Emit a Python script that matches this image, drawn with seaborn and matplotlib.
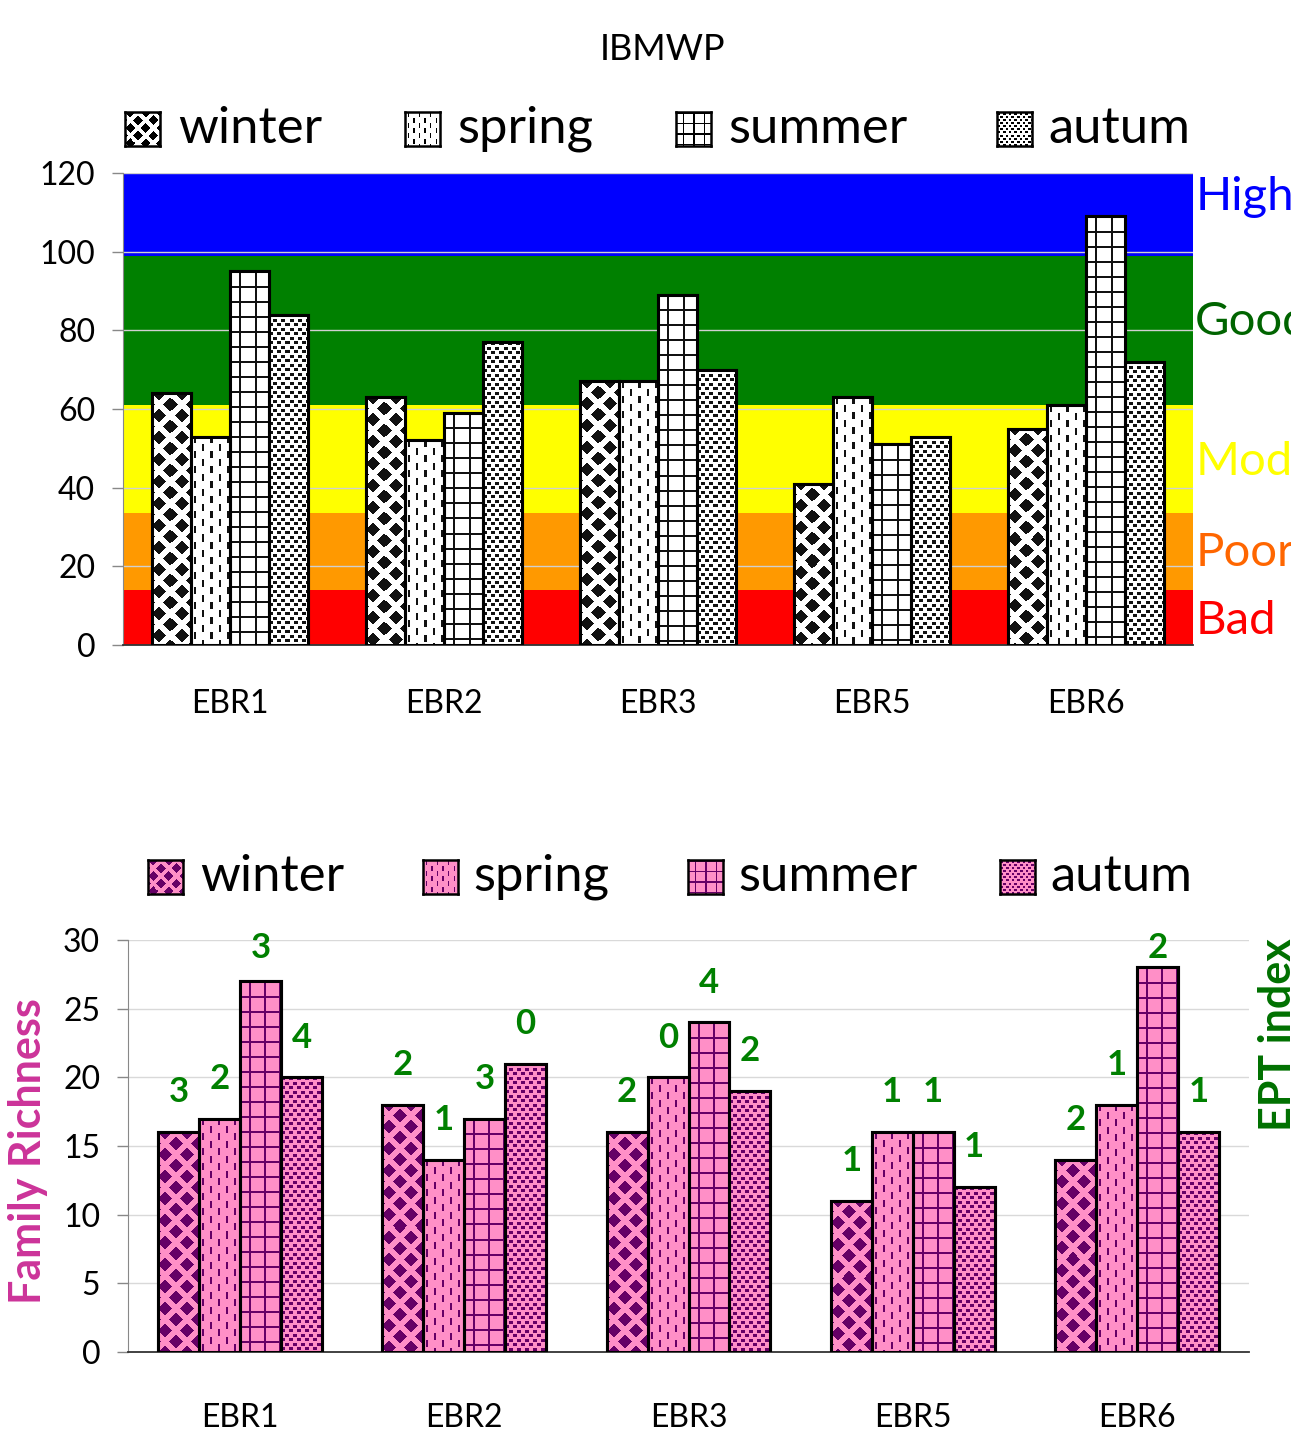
import numpy as np
import pandas as pd
import matplotlib
matplotlib.use("Agg")
import matplotlib.pyplot as plt
import matplotlib.colors as mcolors
import seaborn as sns

# --- data ---
sites = ["EBR1", "EBR2", "EBR3", "EBR5", "EBR6"]
seasons = ["winter", "spring", "summer", "autum"]

ibmwp_winter = [64, 63, 67, 41, 55]
ibmwp_spring = [53, 52, 67, 63, 61]
ibmwp_summer = [95, 59, 89, 51, 109]
ibmwp_autum = [84, 77, 70, 53, 72]

rich_winter = [16, 18, 16, 11, 14]
rich_spring = [17, 14, 20, 16, 18]
rich_summer = [27, 17, 24, 16, 28]
rich_autum = [20, 21, 19, 12, 16]

ept_winter = [3, 2, 2, 1, 2]
ept_spring = [2, 1, 0, 1, 1]
ept_summer = [3, 3, 4, 1, 2]
ept_autum = [4, 0, 2, 1, 1]

# IBMWP quality classes
class_edges = [0, 14, 33.5, 61, 99, 120]
class_names = ["Bad", "Poor", "Moderate", "Good", "High"]
class_colors = ["#FF0000", "#FF9900", "#FFFF00", "#008000", "#0000FF"]
class_text_colors = ["#FF0000", "#FF6600", "#FFFF00", "#006400", "#0000FF"]
class_label_y = [6, 23.5, 46.5, 82, 114]

sns.set_style("white")
plt.rcParams["font.family"] = ["Lato", "DejaVu Sans"]
plt.rcParams["text.color"] = "black"
plt.rcParams["xtick.labelcolor"] = "black"
plt.rcParams["ytick.labelcolor"] = "black"

W, H = 1291, 1436


def texture(kind, w, h, fg, bg, s=1.0):
    # pixel pattern that mimics the excel fill for each season
    yy, xx = np.mgrid[0:h, 0:w]
    yy = yy / s
    xx = xx / s
    if kind == "winter":
        a = (xx + yy) % 22
        b = (xx - yy) % 22
        mask = (a < 14) & (b < 14)
    elif kind == "spring":
        col = xx // 8
        mask = (xx % 8 >= 3) & (xx % 8 < 5) & ((yy + (col % 2) * 7.5) % 15 < 7)
    elif kind == "summer":
        mask = ((xx + 6) % 15 < 2) | (yy % 15 < 2)
    else:
        row = np.floor(yy / 4.5)
        mask = ((xx + (row % 2) * 4) % 8 < 3.5) & (yy % 4.5 < 3)
    fgc = np.array(mcolors.to_rgb(fg))
    bgc = np.array(mcolors.to_rgb(bg))
    return np.where(mask[..., None], fgc, bgc)


def add_textures(ax, fg, bg):
    for kind, cont in zip(seasons, ax.containers):
        for bar in cont:
            x0, y0 = bar.get_x(), bar.get_y()
            w, h = bar.get_width(), bar.get_height()
            (px0, py0), (px1, py1) = ax.transData.transform([(x0, y0), (x0 + w, y0 + h)])
            img = texture(kind, max(int(round(px1 - px0)), 1), max(int(round(py1 - py0)), 1), fg, bg)
            im = ax.imshow(img, extent=(x0, x0 + w, y0, y0 + h), aspect="auto",
                           interpolation="nearest", zorder=3.1)
            im.set_clip_path(bar)
            ax.add_patch(plt.Rectangle((x0, y0), w, h, fill=False, ec="black", lw=2.2, zorder=3.2))


def add_legend(fig, xs_box, xs_txt, ytop, fg, bg):
    for kind, xb, xt in zip(seasons, xs_box, xs_txt):
        lax = fig.add_axes([xb / W, 1 - (ytop + 34) / H, 35 / W, 34 / H])
        lax.imshow(texture(kind, 35, 34, fg, bg, s=0.7), aspect="auto", interpolation="nearest")
        lax.set_xticks([])
        lax.set_yticks([])
        for sp in lax.spines.values():
            sp.set_color("black")
            sp.set_linewidth(1.8)
        fig.text(xt / W, 1 - (ytop + 17) / H, kind, fontsize=36.5, va="center", ha="left")


def style_axis(ax, ymax, ystep, pad_x):
    ax.set_xlim(-0.5, 4.5)
    ax.set_ylim(0, ymax)
    ax.set_yticks(np.arange(0, ymax + 1, ystep))
    ax.set_xticks(range(len(sites)))
    ax.set_xticklabels(sites, fontsize=23)
    ax.set_xticks(np.arange(-0.5, len(sites), 1), minor=True)
    ax.tick_params(axis="x", which="major", length=0, pad=pad_x)
    ax.tick_params(axis="x", which="minor", length=10, width=1, color="#555555", direction="out")
    ax.tick_params(axis="y", length=8, width=1, color="#888888", labelsize=23, pad=12, left=True)
    ax.set_xlabel("")
    ax.set_ylabel("")
    for side in ["top", "right"]:
        ax.spines[side].set_visible(False)
    ax.spines["left"].set_color("#888888")
    ax.spines["bottom"].set_color("#333333")
    ax.spines["bottom"].set_linewidth(1.3)


fig = plt.figure(figsize=(W / 100, H / 100), dpi=100)

# ---------------- top panel: IBMWP ----------------
ax1 = fig.add_axes([123 / W, 1 - 645 / H, (1193 - 123) / W, (645 - 173) / H])
top = pd.DataFrame({
    "site": sites * 4,
    "season": np.repeat(seasons, len(sites)),
    "value": ibmwp_winter + ibmwp_spring + ibmwp_summer + ibmwp_autum,
})
sns.barplot(data=top, x="site", y="value", hue="season", hue_order=seasons,
            palette={s: "white" for s in seasons}, saturation=1, width=0.73, gap=0,
            edgecolor="black", linewidth=2.2, legend=False, errorbar=None, ax=ax1, zorder=3)
style_axis(ax1, 120, 20, 32)
ax1.set_axisbelow(True)
ax1.grid(axis="y", color="#d0d0d0", lw=1)
for lo, hi, c in zip(class_edges[:-1], class_edges[1:], class_colors):
    ax1.axhspan(lo, hi, color=c, lw=0, zorder=0.2)
for yl, name, c in zip(class_label_y, class_names, class_text_colors):
    ax1.text(1.002, yl, name, transform=ax1.get_yaxis_transform(), color=c,
             fontsize=34, va="center", ha="left", clip_on=False)
add_textures(ax1, "#111111", "white")
ax1.set_xlim(-0.5, 4.5)
ax1.set_ylim(0, 120)

fig.text(663 / W, 1 - 50 / H, "IBMWP", fontsize=26, ha="center", va="center")
add_legend(fig, [125, 405, 676, 997], [178, 457, 728, 1048], 112, "black", "white")

# ---------------- bottom panel: family richness ----------------
pink = "#FF8FC7"
purple = "#660066"
ax2 = fig.add_axes([128 / W, 1 - 1352 / H, (1249 - 128) / W, (1352 - 940) / H])
bot = pd.DataFrame({
    "site": sites * 4,
    "season": np.repeat(seasons, len(sites)),
    "value": rich_winter + rich_spring + rich_summer + rich_autum,
})
sns.barplot(data=bot, x="site", y="value", hue="season", hue_order=seasons,
            palette={s: pink for s in seasons}, saturation=1, width=0.73, gap=0,
            edgecolor="black", linewidth=2.2, legend=False, errorbar=None, ax=ax2, zorder=3)
style_axis(ax2, 30, 5, 37)
ax2.set_axisbelow(True)
ax2.grid(axis="y", color="#d9d9d9", lw=1)
add_textures(ax2, purple, pink)
ax2.set_xlim(-0.5, 4.5)
ax2.set_ylim(0, 30)

# EPT index written above each bar (kept inside the plot area at the top)
for cont, vals in zip(ax2.containers, [ept_winter, ept_spring, ept_summer, ept_autum]):
    for bar, v in zip(cont, vals):
        ax2.text(bar.get_x() + bar.get_width() / 2, min(bar.get_height() + 2.9, 29.4), str(v),
                 ha="center", va="center", color="#008000", fontsize=25, fontweight="bold",
                 clip_on=False)

fig.text(28 / W, 1 - 1151 / H, "Family Richness", rotation=90, color="#CC3399",
         fontsize=31, fontweight="bold", ha="center", va="center")
fig.text(1278 / W, 1 - 1035 / H, "EPT index", rotation=90, color="#007000",
         fontsize=31, fontweight="bold", ha="center", va="center")

add_legend(fig, [148, 423, 688, 1000], [200, 473, 738, 1050], 860, purple, pink)

fig.savefig("out.png", dpi=100)
